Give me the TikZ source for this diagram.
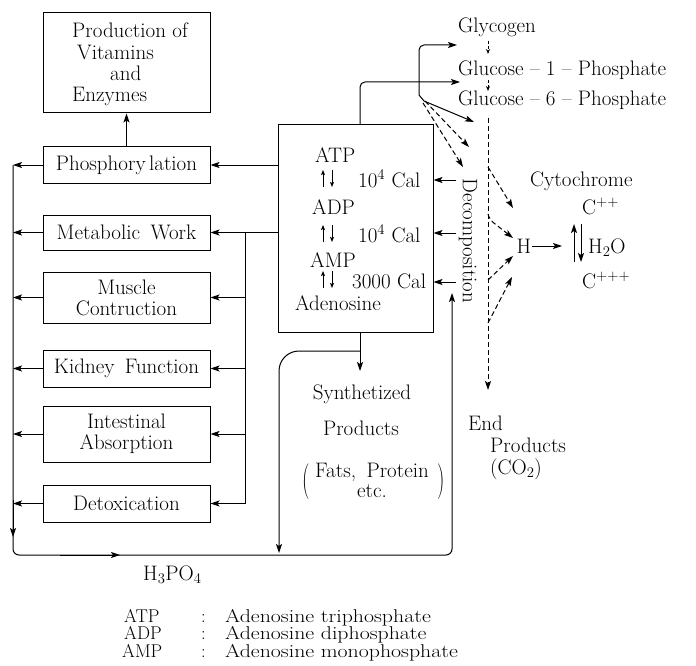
\documentclass[tikz,border=0pt]{standalone}
\usepackage{graphicx}
\usetikzlibrary{arrows.meta}
\begin{document}
\begin{tikzpicture}[x=1pt,y=-1pt,
  font=\fontsize{21}{21}\selectfont,
  box/.style={draw, line width=1pt, inner sep=0pt, minimum width=167pt},
  ln/.style={line width=1pt},
  arr/.style={ln, -{Stealth[length=9pt,width=6pt,inset=2pt]}},
  tarr/.style={line width=1pt, -{Stealth[length=5pt,width=4pt,inset=1pt]}},
  darr/.style={arr, dash pattern=on 5pt off 3pt},
  sdarr/.style={line width=0.9pt, dash pattern=on 3pt off 2pt, -{Stealth[length=5pt,width=4pt]}},
  txt/.style={inner sep=0pt, anchor=base west},
  legtxt/.style={txt, font=\fontsize{18.5}{18.5}\selectfont}
]
\useasboundingbox (0,0) rectangle (696,666);

% left boxes
\node[box, minimum height=100pt] (prod) at (126.5,63) {};
\node[txt] (pt1) at (72,38) {Production of};
\node[txt] (pt2) at (77,60) {Vitamins};
\node[txt] (pt3) at (110,81) {and};
\node[txt] (pt4) at (72,102) {Enzymes};
\node[box, minimum height=36pt] (phos) at (126.5,165) {Phosphory\,lation};
\node[box, minimum height=35pt] (met) at (126.5,232.5) {Metabolic\enspace Work};
\node[box, minimum height=51pt, align=center, font=\fontsize{21}{21}\selectfont] (mus) at (126.5,297.5) {Muscle\\Contruction};
\node[box, minimum height=37pt] (kid) at (126.5,368.5) {Kidney\enspace Function};
\node[box, minimum height=56pt, align=center, font=\fontsize{21}{21}\selectfont] (int) at (126.5,434) {Intestinal\\Absorption};
\node[box, minimum height=37pt] (det) at (126.5,503.5) {Detoxication};

% ATP box
\node[draw, line width=1pt, minimum width=155pt, minimum height=207pt] (atp) at (355.5,228.5) {};
\node[txt] (tatp) at (315,163) {ATP};
\node[txt] (cal1) at (358,187) {10\textsuperscript{4} Cal};
\node[txt] (tadp) at (312,214) {ADP};
\node[txt] (cal2) at (358,242) {10\textsuperscript{4} Cal};
\node[txt] (tamp) at (310,267) {AMP};
\node[txt] (cal3) at (352,288) {3000 Cal};
\node[txt] (tado) at (295,310) {Adenosine};
\foreach \b in {187,242,288}{
  \draw[tarr] (323,\b) -- (323,\b-17);
  \draw[tarr] (332,\b-17) -- (332,\b);
}

% connectors to left boxes
\draw[arr] (atp.west |- phos.east) -- (phos.east);
\draw[arr] (atp.west |- met.east) -- (met.east);
\coordinate (r1) at (245,232.5);
\coordinate (r2) at (245,503.5);
\draw[ln] (r1) -- (r2);
\draw[arr] (r1 |- mus.east) -- (mus.east);
\draw[arr] (r1 |- kid.east) -- (kid.east);
\draw[arr] (r1 |- int.east) -- (int.east);
\draw[arr] (r2) -- (det.east);
\draw[arr] (phos.north) -- (prod.south);

\coordinate (l1) at (13,165);
\draw[arr] (phos.west) -- (l1);
\draw[arr] (met.west) -- (l1 |- met.west);
\draw[arr] (mus.west) -- (l1 |- mus.west);
\draw[arr] (kid.west) -- (l1 |- kid.west);
\draw[arr] (int.west) -- (l1 |- int.west);
\draw[arr] (det.west) -- (l1 |- det.west);

% H3PO4 return loop
\coordinate (bl) at (13,555);
\coordinate (br) at (452,555);
\coordinate (up) at (452,293);
\draw[arr, rounded corners=6pt] (l1) -- (bl) -- (br) -- (up);
\draw[arr] (13,500) -- (13,537);
\draw[arr] (60,555) -- (120,555);
\node[txt] (h3po4) at (143,580) {H\textsubscript{3}PO\textsubscript{4}};

% synthetized products
\coordinate (s0) at (360,332);
\coordinate (s1) at (360,351);
\coordinate (s2) at (279,553);
\draw[arr] (s0) -- (360,371);
\draw[arr, rounded corners=20pt] (s1) -- (s1 -| s2) -- (s2);
\node[anchor=base] (syn) at (362,399) {Synthetized};
\node[anchor=base] (prods) at (361,435) {Products};
\node[anchor=base] (fats) at (372,477) {Fats,\enspace Protein};
\node[anchor=base] (etc) at (372,497) {etc.};
\node[inner sep=0pt] (lp) at (306,482) {\scalebox{1}[1.7]{(}};
\node[inner sep=0pt] (rp) at (441,482) {\scalebox{1}[1.7]{)}};

% glucose chain
\node[txt] (glyc) at (458,33) {Glycogen};
\node[txt] (g1) at (458,76) {Glucose -- 1 -- Phosphate};
\node[txt] (g6) at (458,106) {Glucose -- 6 -- Phosphate};
\draw[sdarr] (488,41) -- (488,54);
\draw[sdarr] (488,80) -- (488,91);

% top connectors
\coordinate (t0) at (360,125);
\coordinate (j0) at (419,95);
\draw[arr, rounded corners=5pt] (t0) -- (360,82) -- (460,82);
\draw[arr, rounded corners=5pt] (j0) -- (419,45) -- (457,45);
\draw[arr] (j0) -- (424,101) -- (474,122);
\draw[darr] (425,101) -- (469,147);
\draw[darr] (423,103) -- (463,167);

% decomposition
\draw[darr] (488,118) -- (488,390);
\node[rotate=-90, inner sep=0pt] (dec) at (468,241) {Decomposition};
\draw[arr] (456,180) -- (atp.east |- 0,180);
\draw[arr] (456,233) -- (atp.east |- 0,233);
\draw[arr] (456,282) -- (atp.east |- 0,282);

\node[txt] (endp1) at (468,430) {End};
\node[txt] (endp2) at (490,452) {Products};
\node[txt] (endp3) at (490,474) {(CO\textsubscript{2})};

% H and cytochrome
\node[inner sep=1pt] (h) at (524,246) {H};
\draw[darr] (488,167) -- (513,208);
\draw[darr, rounded corners=4pt] (488,214) -- (490,220) -- (513,238);
\draw[darr] (488,280) -- (513,256);
\draw[darr] (488,323) -- (512,277);
\draw[arr] (h.east) -- (562,246);
\node[txt] (cyt) at (530,186) {Cytochrome};
\node[txt] (cpp) at (582,214) {C\textsuperscript{++}};
\coordinate (cu) at (574,224);
\coordinate (cd) at (581,224);
\draw[arr] (574,262) -- (cu);
\draw[arr] (cd) -- (581,262);
\node[txt] (h2o) at (588,253) {H\textsubscript{2}O};
\node[txt] (cppp) at (582,288) {C\textsuperscript{+++}};

% legend
\node[legtxt] (la1) at (124,622) {ATP};
\node[legtxt] (lc1) at (201,622) {:};
\node[legtxt] (ld1) at (225,622) {\scalebox{1.18}[1]{Adenosine triphosphate}};
\node[legtxt] (la2) at (124,639.5) {ADP};
\node[legtxt] (lc2) at (201,639.5) {:};
\node[legtxt] (ld2) at (225,639.5) {\scalebox{1.18}[1]{Adenosine diphosphate}};
\node[legtxt] (la3) at (122,657) {AMP};
\node[legtxt] (lc3) at (201,657) {:};
\node[legtxt] (ld3) at (225,657) {\scalebox{1.18}[1]{Adenosine monophosphate}};
\end{tikzpicture}
\end{document}
